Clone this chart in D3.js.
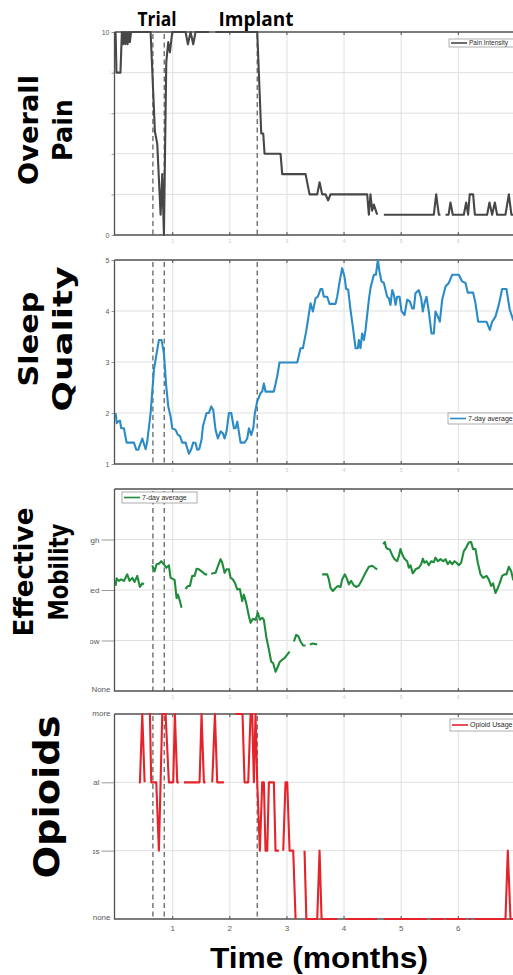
<!DOCTYPE html>
<html>
<head>
<meta charset="utf-8">
<script src="https://cdn.jsdelivr.net/npm/d3@7"></script>
<style>
  html, body { margin: 0; padding: 0; background: #fff; }
  svg { display: block; }
</style>
</head>
<body>
<svg width="513" height="975"></svg>
<script>
// ---- data (months since start, value); null = missing day ----
const monthTicks = [1, 2, 3, 4, 5, 6, 7];
const eventMonths = [0.653, 0.852, 2.48];
const eventNames = ["Trial", "Implant"];

const painTicks = [0, 2, 4, 6, 8, 10];
const sleepTicks = [1, 2, 3, 4, 5];
const mobilityLevels = ["None", "Low", "Med", "High"];
const opioidLevels = ["none", "less", "usual", "more"];

const painSeries = [
    [0, 10], [0.015, 8], [0.085, 8], [0.11, 10], [0.13, 9.4], [0.15, 10], [0.17, 9.4], [0.19, 10],
    [0.21, 9.4], [0.23, 10], [0.25, 9.5], [0.27, 10], [0.613, 10], [0.688, 5.1], [0.729, 4.5],
    [0.788, 1.0], [0.817, 3.0], [0.846, 0], [0.887, 8.5], [0.922, 9.5], [0.951, 9.0], [0.992, 10],
    [1.225, 10], [1.266, 9.4], [1.313, 10], [1.359, 9.4], [1.40, 10], [1.634, 10], [1.69, null],
    [1.75, 10], [2.48, 10], [2.55, 5.0], [2.585, 5.0], [2.608, 4.0], [2.888, 4.0], [2.917, 3.0],
    [3.326, 3.0], [3.396, 2.0], [3.53, 2.0], [3.571, 2.6], [3.617, 2.0], [3.676, 2.0], [3.722, 1.7],
    [3.763, 2.0], [4.405, 2.0], [4.434, 1.0], [4.463, 2.0], [4.492, 1.2], [4.522, 1.5], [4.58, 1.0],
    [4.64, null], [4.697, 1], [5.572, 1], [5.613, 2], [5.659, 1], [5.688, 1], [5.73, null],
    [5.776, 1], [5.83, 1], [5.863, 1.6], [5.904, 1], [6.097, 1], [6.138, 1.6], [6.172, 1], [6.20, 2],
    [6.26, 2], [6.29, 1], [6.505, 1], [6.546, 1.6], [6.593, 1], [6.64, 1.6], [6.68, 1], [6.826, 1],
    [6.885, 2], [6.93, 1], [7, 1]
];

const sleepSeries = [
    [0, 2.0], [0.02, 1.8], [0.041, 1.83], [0.076, 1.85], [0.099, 1.7], [0.146, 1.7], [0.193, 1.42],
    [0.321, 1.42], [0.362, 1.28], [0.397, 1.28], [0.467, 1.5], [0.525, 1.29], [0.554, 1.44],
    [0.613, 2.0], [0.671, 2.85], [0.758, 3.43], [0.805, 3.43], [0.846, 3.17], [0.887, 2.52],
    [0.922, 2.13], [0.963, 1.93], [0.992, 1.7], [1.05, 1.67], [1.091, 1.57], [1.126, 1.55],
    [1.167, 1.42], [1.225, 1.42], [1.284, 1.2], [1.324, 1.29], [1.359, 1.42], [1.40, 1.41],
    [1.429, 1.28], [1.464, 1.29], [1.505, 1.48], [1.529, 1.74], [1.593, 2.0], [1.634, 2.0],
    [1.674, 2.13], [1.709, 2.06], [1.75, 1.67], [1.791, 1.5], [1.838, 1.64], [1.879, 1.6],
    [1.908, 1.5], [1.943, 1.64], [1.984, 2.0], [2.025, 2.0], [2.071, 1.7], [2.10, 1.7],
    [2.13, 1.83], [2.188, 1.42], [2.258, 1.42], [2.305, 1.5], [2.334, 1.7], [2.375, 1.57],
    [2.41, 1.7], [2.439, 2.0], [2.48, 2.23], [2.538, 2.39], [2.567, 2.42], [2.596, 2.58],
    [2.625, 2.42], [2.771, 2.42], [2.83, 2.72], [2.87, 2.99], [3.18, 2.99], [3.238, 3.27],
    [3.279, 3.27], [3.337, 3.6], [3.413, 4.15], [3.454, 3.99], [3.501, 4.25], [3.541, 4.28],
    [3.588, 4.43], [3.617, 4.43], [3.646, 4.28], [3.705, 4.28], [3.746, 4.14], [3.851, 4.14],
    [3.88, 4.28], [3.926, 4.6], [3.967, 4.84], [4.008, 4.67], [4.037, 4.43], [4.072, 4.42],
    [4.113, 4.02], [4.154, 3.69], [4.201, 3.27], [4.242, 3.27], [4.259, 3.43], [4.288, 3.27],
    [4.317, 3.56], [4.347, 3.43], [4.376, 3.63], [4.434, 4.22], [4.463, 4.45], [4.522, 4.71],
    [4.557, 4.71], [4.592, 5.0], [4.621, 4.77], [4.656, 4.58], [4.697, 4.55], [4.755, 4.28],
    [4.784, 4.25], [4.813, 4.12], [4.843, 4.41], [4.872, 4.32], [4.901, 4.12], [4.93, 4.28],
    [4.971, 4.28], [5.006, 4.0], [5.058, 3.92], [5.105, 4.22], [5.152, 4.19], [5.193, 4.05],
    [5.222, 4.05], [5.251, 4.35], [5.309, 4.41], [5.35, 4.25], [5.379, 3.99], [5.408, 4.15],
    [5.443, 4.28], [5.484, 3.99], [5.531, 3.56], [5.572, 3.56], [5.601, 3.99], [5.642, 3.89],
    [5.677, 3.79], [5.718, 4.22], [5.776, 4.48], [5.834, 4.55], [5.893, 4.71], [6.009, 4.71],
    [6.068, 4.58], [6.126, 4.55], [6.167, 4.36], [6.26, 4.36], [6.301, 4.15], [6.348, 3.79],
    [6.494, 3.79], [6.552, 3.63], [6.593, 3.79], [6.651, 3.89], [6.709, 4.12], [6.768, 4.43],
    [6.844, 4.43], [6.902, 4.02], [6.96, 3.83], [7, 3.75]
];

const mobilitySeries = [
    [0, 2.08], [0.018, 2.23], [0.058, 2.18], [0.099, 2.21], [0.146, 2.18], [0.204, 2.31],
    [0.245, 2.18], [0.292, 2.24], [0.333, 2.16], [0.379, 2.28], [0.426, 2.06], [0.467, 2.13],
    [0.496, 2.11], [0.57, null],
    [0.642, 2.49], [0.683, 2.37], [0.718, 2.51], [0.758, 2.52], [0.799, 2.57], [0.846, 2.51],
    [0.887, 2.44], [0.933, 2.49], [0.963, 2.24], [1.003, 2.22], [1.033, 2.2], [1.068, 1.84],
    [1.091, 1.91], [1.126, 1.78], [1.155, 1.65], [1.19, null],
    [1.225, 2.02], [1.266, 2.08], [1.301, 2.08], [1.342, 2.28], [1.383, 2.28], [1.418, 2.42],
    [1.459, 2.41], [1.517, 2.36], [1.564, 2.31], [1.604, 2.31], [1.64, null],
    [1.674, 2.32], [1.75, 2.34], [1.791, 2.47], [1.838, 2.61], [1.867, 2.54], [1.908, 2.34],
    [1.943, 2.41], [1.984, 2.41], [2.013, 2.24], [2.054, 2.21], [2.089, 2.14], [2.13, 2.01],
    [2.176, 2.02], [2.217, 1.78], [2.246, 1.91], [2.287, 1.74], [2.334, 1.48], [2.363, 1.35],
    [2.404, 1.43], [2.45, 1.41], [2.491, 1.55], [2.526, 1.41], [2.567, 1.45], [2.596, 1.41],
    [2.637, 1.08], [2.684, 0.82], [2.725, 0.58], [2.76, 0.55], [2.80, 0.38], [2.841, 0.48],
    [2.876, 0.58], [2.917, 0.62], [2.958, 0.65], [3.005, 0.72], [3.046, 0.78], [3.08, null],
    [3.121, 0.98], [3.162, 1.11], [3.197, 1.09], [3.238, 0.98], [3.285, 0.9], [3.326, 0.9],
    [3.36, null],
    [3.401, 0.92], [3.454, 0.94], [3.53, 0.92], [3.57, null],
    [3.617, 2.31], [3.705, 2.31], [3.734, 2.21], [3.763, 2.04], [3.804, 1.98], [3.851, 2.04],
    [3.891, 2.08], [3.938, 2.06], [3.967, 2.21], [4.014, 2.31], [4.055, 2.21], [4.084, 2.11],
    [4.125, 2.18], [4.172, 2.09], [4.218, 2.06], [4.259, 2.09], [4.317, 2.21], [4.376, 2.34],
    [4.434, 2.46], [4.492, 2.48], [4.539, 2.44], [4.58, 2.41], [4.63, null],
    [4.685, 2.91], [4.714, 2.95], [4.737, 2.84], [4.767, 2.81], [4.802, 2.8], [4.843, 2.69],
    [4.883, 2.61], [4.93, 2.57], [4.959, 2.67], [4.988, 2.81], [5.018, 2.71], [5.058, 2.62],
    [5.105, 2.57], [5.134, 2.44], [5.163, 2.49], [5.204, 2.33], [5.251, 2.41], [5.309, 2.44],
    [5.35, 2.51], [5.379, 2.62], [5.408, 2.54], [5.443, 2.57], [5.484, 2.49], [5.525, 2.57],
    [5.572, 2.55], [5.601, 2.64], [5.642, 2.57], [5.689, 2.61], [5.735, 2.57], [5.776, 2.61],
    [5.817, 2.51], [5.852, 2.57], [5.893, 2.51], [5.934, 2.57], [5.969, 2.54], [6.009, 2.49],
    [6.05, 2.54], [6.097, 2.77], [6.138, 2.84], [6.184, 2.94], [6.225, 2.95], [6.26, 2.81],
    [6.301, 2.81], [6.342, 2.54], [6.389, 2.31], [6.435, 2.24], [6.494, 2.28], [6.534, 2.21],
    [6.575, 2.08], [6.61, 2.13], [6.651, 1.94], [6.692, 2.04], [6.727, 2.14], [6.768, 2.28],
    [6.809, 2.31], [6.844, 2.31], [6.885, 2.46], [6.926, 2.37], [6.96, 2.21], [7, 2.15]
];

const opioidSeries = [
    [0.408, 2], [0.426, 2], [0.467, 3], [0.508, 2], [0.54, null],
    [0.583, 3], [0.601, 3], [0.624, 2], [0.712, 2], [0.758, 1], [0.817, 3], [0.875, 3],
    [0.933, 2], [1.009, 2], [1.038, 3], [1.079, 2], [1.108, 2], [1.15, null],
    [1.196, 2], [1.47, 2], [1.505, 3], [1.546, 2], [1.575, 2], [1.63, null],
    [1.692, 2], [1.739, 3], [1.779, 2], [1.896, 2], [2.0, null],
    [2.10, 3], [2.222, 3], [2.258, 2], [2.322, 2], [2.363, 3], [2.392, 3], [2.421, 2],
    [2.45, 3], [2.48, 2], [2.526, 1], [2.567, 2], [2.596, 2], [2.625, 1], [2.655, 1],
    [2.684, 2], [2.771, 2], [2.80, 1], [2.859, 1], [2.90, null],
    [2.935, 1], [2.975, 2], [3.005, 2], [3.046, 1], [3.11, 1], [3.151, 0], [3.22, null],
    [3.308, 1], [3.34, 0], [3.53, 0], [3.571, 1], [3.606, 0], [3.88, 0], [3.95, null],
    [4.026, 0], [4.58, 0], [4.64, null],
    [4.697, 0], [5.455, 0], [5.48, null],
    [5.513, 0], [5.747, 0], [5.76, null],
    [5.776, 0], [6.126, 0], [6.15, null],
    [6.184, 0], [6.225, 0], [6.25, null],
    [6.284, 0], [6.826, 0], [6.867, 1], [6.914, 0], [7, 0]
];

// ---- layout ----
const svg = d3.select("svg");
const boxLeft = 114.5;
const x = d3.scaleLinear().domain([0, 7]).range([115.6, 515.4]);
const gridGray = "#e0e0e0";
const axisGray = "#505050";
const labelFont = "'Liberation Sans', Arial, sans-serif";
const titleFont = "'DejaVu Sans', sans-serif";

const panels = [
    {
        series: painSeries, color: "#474747", top: 32, bottom: 235, domain: [0, 10],
        ticks: painTicks, labels: painTicks.map(String), tickLen: 3, labelEdge: false,
        legend: {text: "Pain Intensity", x: 449, y: 39, h: 8, size: 6.5},
        cover: {x: 0, y: 41, w: 109, h: 187},
        title: {cy: 130, size: 27, lines: [{text: "Overall", x: 38, len: 110}, {text: "Pain", x: 72, len: 62}]}
    },
    {
        series: sleepSeries, color: "#2b8bc6", top: 260, bottom: 464, domain: [1, 5],
        ticks: sleepTicks, labels: sleepTicks.map(String), tickLen: 3, labelEdge: false,
        legend: {text: "7-day average", x: 448, y: 413, h: 11, size: 7},
        cover: null,
        title: {cy: 339, size: 27, lines: [{text: "Sleep", x: 38, len: 95}, {text: "Quality", x: 72, len: 145}]}
    },
    {
        series: mobilitySeries, color: "#1f8c3b", top: 489, bottom: 691, domain: [0, 4],
        ticks: [0, 1, 2, 3], labels: mobilityLevels, tickLen: 13, labelEdge: true,
        legend: {text: "7-day average", x: 122, y: 492, h: 11, size: 7},
        cover: {x: 0, y: 500, w: 90, h: 182},
        title: {cy: 572, size: 27, lines: [{text: "Effective", x: 33, len: 129}, {text: "Mobility", x: 68, len: 97}]}
    },
    {
        series: opioidSeries, color: "#e5232a", top: 714, bottom: 919, domain: [0, 3],
        ticks: [0, 1, 2, 3], labels: opioidLevels, tickLen: 13, labelEdge: true,
        legend: {text: "Opioid Usage", x: 450, y: 719, h: 12, size: 7},
        cover: {x: 0, y: 724, w: 93, h: 182},
        title: {cy: 797, size: 35, lines: [{text: "Opioids", x: 59, len: 163}]}
    }
];

const drawPanel = (p, index) => {
    const y = d3.scaleLinear().domain(p.domain).range([p.bottom, p.top]);
    const g = svg.append("g").attr("class", "panel");
    const isLast = index === panels.length - 1;

    // grid
    g.append("g").selectAll("line")
        .data(monthTicks.filter(m => m < 7))
        .join("line")
        .attr("x1", d => x(d)).attr("x2", d => x(d))
        .attr("y1", p.top).attr("y2", p.bottom)
        .attr("stroke", gridGray).attr("stroke-width", 1);

    g.append("g").selectAll("line")
        .data(p.ticks.filter(t => t > p.domain[0] && t < p.domain[1]))
        .join("line")
        .attr("x1", boxLeft).attr("x2", 513)
        .attr("y1", d => y(d)).attr("y2", d => y(d))
        .attr("stroke", gridGray).attr("stroke-width", 1);

    // y axis
    const yAxis = g.append("g")
        .attr("transform", `translate(${boxLeft},0)`)
        .call(d3.axisLeft(y)
            .tickValues(p.ticks)
            .tickFormat(d => p.labels[p.ticks.indexOf(d)])
            .tickSize(p.tickLen)
            .tickPadding(2));
    yAxis.select(".domain").remove();
    yAxis.selectAll("line").attr("stroke", "#9a9a9a");
    yAxis.selectAll("text")
        .attr("font-family", labelFont)
        .attr("font-size", p.labelEdge ? 8 : 7)
        .attr("fill", "#5a5a5a");
    if (p.labelEdge) {
        // labels sitting on the box corners have no tick and hug the axis
        const edge = yAxis.selectAll(".tick").filter(d => d === p.domain[0] || d === p.domain[1]);
        edge.select("line").remove();
        edge.select("text").attr("x", -4).attr("dy", d => d === p.domain[0] ? "0.1em" : "0.2em");
    }

    // x ticks (inward, top and bottom)
    const xt = g.append("g");
    [p.top, p.bottom].forEach((yy, k) => {
        xt.append("g").selectAll("line")
            .data(monthTicks)
            .join("line")
            .attr("x1", d => x(d)).attr("x2", d => x(d))
            .attr("y1", yy).attr("y2", k === 0 ? yy + 3 : yy - 3)
            .attr("stroke", axisGray).attr("stroke-width", 1);
    });
    xt.append("g").selectAll("text")
        .data(isLast ? monthTicks : monthTicks.filter(m => m < 7))
        .join("text")
        .attr("x", d => x(d))
        .attr("y", p.bottom + (isLast ? 12 : 8))
        .attr("text-anchor", "middle")
        .attr("font-family", labelFont)
        .attr("font-size", isLast ? 8 : 5)
        .attr("fill", isLast ? "#5a5a5a" : "#c8c8c8")
        .text(d => d);

    // event markers
    g.append("g").selectAll("line")
        .data(eventMonths)
        .join("line")
        .attr("x1", d => x(d)).attr("x2", d => x(d))
        .attr("y1", p.top + 2).attr("y2", p.bottom)
        .attr("stroke", "#6f6f6f")
        .attr("stroke-width", 1.4)
        .attr("stroke-dasharray", "5,3.5");

    // box
    g.append("path")
        .attr("d", `M${boxLeft},${p.top}H513M${boxLeft},${p.top}V${p.bottom}H513`)
        .attr("fill", "none")
        .attr("stroke", axisGray)
        .attr("stroke-width", 1.3);

    // series
    const line = d3.line()
        .defined(d => d[1] !== null)
        .x(d => x(d[0]))
        .y(d => y(d[1]));

    g.append("path")
        .datum(p.series)
        .attr("d", line)
        .attr("fill", "none")
        .attr("stroke", p.color)
        .attr("stroke-width", 2.1)
        .attr("stroke-linejoin", "round");

    // legend
    const lg = g.append("g");
    lg.append("rect")
        .attr("x", p.legend.x).attr("y", p.legend.y)
        .attr("width", 75).attr("height", p.legend.h)
        .attr("fill", "#fff").attr("stroke", "#8a8a8a").attr("stroke-width", 0.7);
    lg.append("line")
        .attr("x1", p.legend.x + 2).attr("x2", p.legend.x + 18)
        .attr("y1", p.legend.y + p.legend.h / 2).attr("y2", p.legend.y + p.legend.h / 2)
        .attr("stroke", p.color).attr("stroke-width", 1.6);
    lg.append("text")
        .attr("x", p.legend.x + 20)
        .attr("y", p.legend.y + p.legend.h / 2)
        .attr("dy", "0.35em")
        .attr("font-family", labelFont)
        .attr("font-size", p.legend.size)
        .attr("fill", "#2a2a2a")
        .text(p.legend.text);

    // panel title (its white box hides part of the tick labels, as in the source figure)
    if (p.cover) {
        g.append("rect")
            .attr("x", p.cover.x).attr("y", p.cover.y)
            .attr("width", p.cover.w).attr("height", p.cover.h)
            .attr("fill", "#fff");
    }
    g.append("g").selectAll("text")
        .data(p.title.lines)
        .join("text")
        .attr("transform", d => `translate(${d.x},${p.title.cy}) rotate(-90)`)
        .attr("text-anchor", "middle")
        .attr("font-family", titleFont)
        .attr("font-weight", "bold")
        .attr("font-size", p.title.size)
        .attr("textLength", d => d.len)
        .attr("lengthAdjust", "spacingAndGlyphs")
        .attr("fill", "#000")
        .text(d => d.text);
};

panels.forEach(drawPanel);

// event names above the first panel
const eventLabelPos = [{x: 157, len: 39}, {x: 256, len: 75}];
svg.append("g").selectAll("text")
    .data(eventNames)
    .join("text")
    .attr("x", (d, i) => eventLabelPos[i].x)
    .attr("y", 26)
    .attr("text-anchor", "middle")
    .attr("font-family", "'Open Sans', sans-serif")
    .attr("font-weight", "bold")
    .attr("font-size", 19)
    .attr("textLength", (d, i) => eventLabelPos[i].len)
    .attr("lengthAdjust", "spacingAndGlyphs")
    .text(d => d);

svg.append("text")
    .attr("x", 319)
    .attr("y", 968)
    .attr("text-anchor", "middle")
    .attr("font-family", labelFont)
    .attr("font-weight", "bold")
    .attr("font-size", 30)
    .attr("textLength", 218)
    .attr("lengthAdjust", "spacingAndGlyphs")
    .text("Time (months)");
</script>
</body>
</html>
